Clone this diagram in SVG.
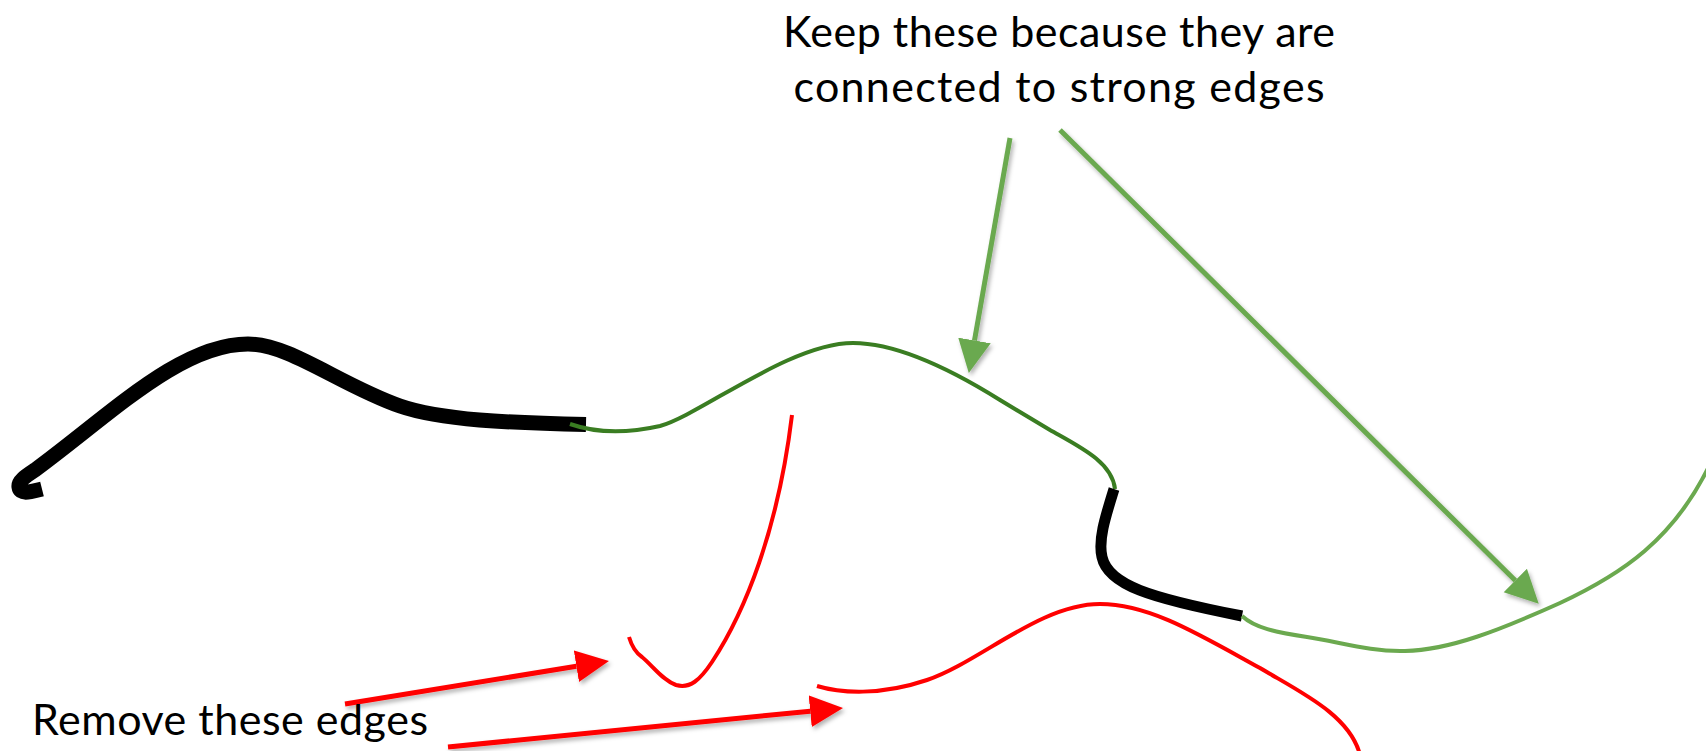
<svg xmlns="http://www.w3.org/2000/svg" width="1706" height="751" viewBox="0 0 1706 751">
  <style>
    .lbl { font-family: Lato, "Liberation Sans", sans-serif; font-size: 43px; fill: #000; }
    .edge { fill: none; stroke-linejoin: round; }
    .strong { stroke: #000; stroke-linecap: butt; }
    .kept1 { stroke: #3A7D22; stroke-width: 4; }
    .kept2 { stroke: #6BA94F; stroke-width: 4; }
    .weak { stroke: #FF0000; stroke-width: 4; }
    .arr-red { stroke: #FF0000; stroke-width: 5; fill: none; }
    .arr-green { stroke: #6BA94F; stroke-width: 5; fill: none; }
  </style>
  <defs>
    <filter id="shadow" x="-20%" y="-20%" width="140%" height="140%">
      <feDropShadow dx="2" dy="3" stdDeviation="2" flood-color="#000" flood-opacity="0.3"/>
    </filter>
    <marker id="headRed" markerUnits="userSpaceOnUse" markerWidth="34" markerHeight="34" refX="0" refY="16" orient="auto" viewBox="0 0 34 32">
      <path d="M0,0 L33,16 L0,32 z" fill="#FF0000"/>
    </marker>
    <marker id="headGreen" markerUnits="userSpaceOnUse" markerWidth="34" markerHeight="34" refX="0" refY="16.5" orient="auto" viewBox="0 0 34 33">
      <path d="M0,0 L33,16.5 L0,33 z" fill="#6BA94F"/>
    </marker>
  </defs>
  <rect width="1706" height="751" fill="#fff"/>

  <g id="edges">
    <path id="strong1" class="edge strong" stroke-width="15" d="M 42,489 C 30,492 20,495 19,487 C 18,481 26,476 35,470 C 110,415 180,344 248,344 C 290,344 340,385 400,406 C 440,420 510,423 586,424.5"/>
    <path id="kept1" class="edge kept1" d="M 570,424 C 590,431 620,435 660,426 C 700,415 790,343 853,343 C 900,343 960,375 1000,400 L 1050,430 C 1080,447 1112,462 1115,489"/>
    <path id="strong2" class="edge strong" stroke-width="11" d="M 1114,489 C 1105,518 1098,540 1102,557 C 1108,585 1150,598 1242,616"/>
    <path id="kept2" class="edge kept2" d="M 1242,616 C 1255,628 1275,632 1307,637 C 1340,642 1370,652 1405,651 C 1450,650 1500,630 1560,603 C 1620,575 1675,540 1712,460"/>
    <path id="weak1" class="edge weak" stroke-width="3.5" d="M 629,637 C 632,647 636,653 642,657 C 652,665 662,680 676,685 C 690,689 700,680 712,662 C 745,612 778,530 792,415"/>
    <path id="weak2" class="edge weak" d="M 817,686 C 840,693 880,696 927,680 C 980,662 1040,604 1100,604 C 1150,604 1200,635 1260,668 C 1300,692 1350,715 1360,755"/>
  </g>

  <g id="connectors" filter="url(#shadow)">
    <line class="arr-red" x1="345" y1="704" x2="576.4" y2="666.2" marker-end="url(#headRed)"/>
    <line class="arr-red" x1="448" y1="747" x2="810.2" y2="711.2" marker-end="url(#headRed)"/>
    <line class="arr-green" x1="1010" y1="138" x2="974.5" y2="340.5" marker-end="url(#headGreen)"/>
    <line class="arr-green" x1="1060" y1="130" x2="1515.3" y2="580.5" marker-end="url(#headGreen)"/>
  </g>

  <g id="label-keep">
    <text class="lbl" x="1059" y="47" text-anchor="middle" textLength="552" lengthAdjust="spacing">Keep these because they are</text>
    <text class="lbl" x="1059" y="102" text-anchor="middle" textLength="531" lengthAdjust="spacing">connected to strong edges</text>
  </g>
  <g id="label-remove">
    <text class="lbl" x="32" y="735" textLength="396" lengthAdjust="spacing">Remove these edges</text>
  </g>
</svg>
